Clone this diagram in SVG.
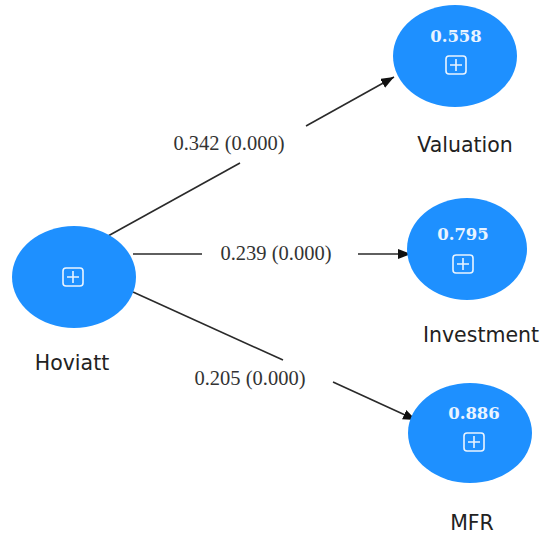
<svg xmlns="http://www.w3.org/2000/svg" width="543" height="534" viewBox="0 0 543 534">
<defs>
<style>
.node{fill:#1E90FF;}
.lbl{font-family:"DejaVu Sans",sans-serif;font-size:20.5px;fill:#222;text-anchor:middle;}
.val{font-family:"DejaVu Serif",serif;font-weight:bold;font-size:16.5px;fill:#EAF4FF;text-anchor:middle;}
.edge{stroke:#2a2a2a;stroke-width:1.6;fill:none;}
.elbl{font-family:"Liberation Serif",serif;font-size:20.5px;fill:#333;text-anchor:middle;}
.ico{fill:none;stroke:#EAF4FF;stroke-width:1.6;}
</style>
<marker id="arr" markerUnits="userSpaceOnUse" markerWidth="14" markerHeight="12" refX="13" refY="5" orient="auto">
<path d="M0,0 L13,5 L0,10 z" fill="#111"/>
</marker>
<g id="icon">
<rect class="ico" x="-10" y="-9" width="20" height="18" rx="3"/>
<path class="ico" d="M-6,0 H6 M0,-6 V6"/>
</g>
</defs>
<g id="connectors">
<line class="edge" x1="108" y1="236" x2="240" y2="163"/>
<line class="edge" x1="306" y1="126" x2="394" y2="77" marker-end="url(#arr)"/>
<text class="elbl" x="229" y="150">0.342 (0.000)</text>
<line class="edge" x1="133" y1="254" x2="202" y2="254"/>
<line class="edge" x1="358" y1="254" x2="411" y2="254" marker-end="url(#arr)"/>
<text class="elbl" x="276" y="260">0.239 (0.000)</text>
<line class="edge" x1="133" y1="292" x2="283" y2="360"/>
<line class="edge" x1="333" y1="382" x2="416" y2="420" marker-end="url(#arr)"/>
<text class="elbl" x="250" y="385">0.205 (0.000)</text>
</g>
<g id="hoviatt">
<ellipse class="node" cx="74" cy="277" rx="62" ry="51"/>
<use href="#icon" x="73" y="277"/>
<text class="lbl" x="72" y="370">Hoviatt</text>
</g>
<g id="valuation">
<ellipse class="node" cx="455" cy="56" rx="62" ry="51"/>
<text class="val" x="456" y="42">0.558</text>
<use href="#icon" x="456" y="65"/>
<text class="lbl" x="465" y="152">Valuation</text>
</g>
<g id="investment">
<ellipse class="node" cx="467" cy="249" rx="60" ry="51"/>
<text class="val" x="463" y="240">0.795</text>
<use href="#icon" x="463" y="264"/>
<text class="lbl" x="481" y="342">Investment</text>
</g>
<g id="mfr">
<ellipse class="node" cx="470" cy="433" rx="62" ry="50"/>
<text class="val" x="474" y="419">0.886</text>
<use href="#icon" x="474" y="442"/>
<text class="lbl" x="472" y="530">MFR</text>
</g>
</svg>
